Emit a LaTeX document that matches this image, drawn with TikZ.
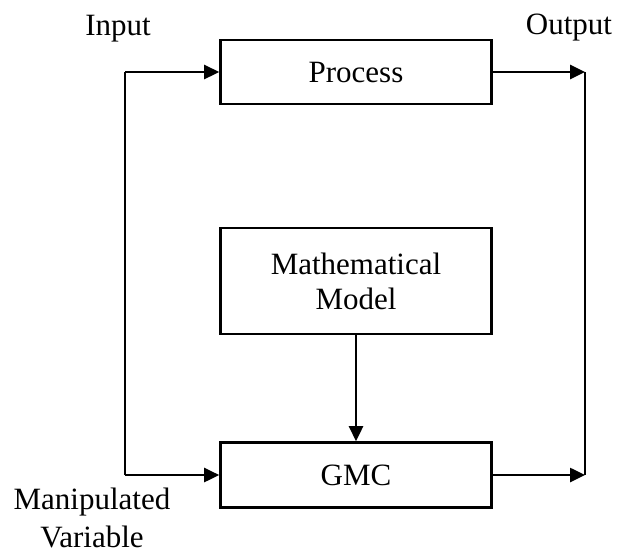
\documentclass[tikz,border=0pt]{standalone}
\usepackage{fontspec}
\setmainfont{Liberation Serif}
\usetikzlibrary{arrows.meta}
\begin{document}
\begin{tikzpicture}[x=1pt,y=-1pt,
  box/.style={draw,line width=2.6pt,minimum width=271pt,inner sep=0pt,align=center,font=\fontsize{31}{35}\selectfont},
  conn/.style={line width=2.6pt,-{Triangle[length=15pt,width=14pt]}},
  wire/.style={line width=2.6pt,line join=miter},
  lbl/.style={align=center,inner sep=0pt,font=\fontsize{31}{38}\selectfont}]
\useasboundingbox (0,0) rectangle (617,555);
\node[box,minimum height=64pt] (proc) at (356,72) {Process};
\node[box,minimum height=106pt] (mm) at (356,281) {Mathematical\\Model};
\node[box,minimum height=65pt] (gmc) at (356,475) {GMC};
\coordinate (lt) at (125,72);
\coordinate (lb) at (125,475);
\coordinate (rt) at (585,72);
\coordinate (rb) at (585,475);
\draw[wire] (lb) -- (lt);
\draw[conn] (lt) -- (proc.west);
\draw[conn] (lb) -- (gmc.west);
\draw[conn] (proc.east) -- (rt);
\draw[conn] (gmc.east) -- (rb);
\draw[wire] (rt) -- (rb);
\draw[conn] (mm.south) -- (gmc.north);
\node[lbl] (in) at (118,29) {Input};
\node[lbl] (out) at (569,28) {Output};
\node[lbl] (mv) at (92,518) {Manipulated\\Variable};
\end{tikzpicture}
\end{document}
